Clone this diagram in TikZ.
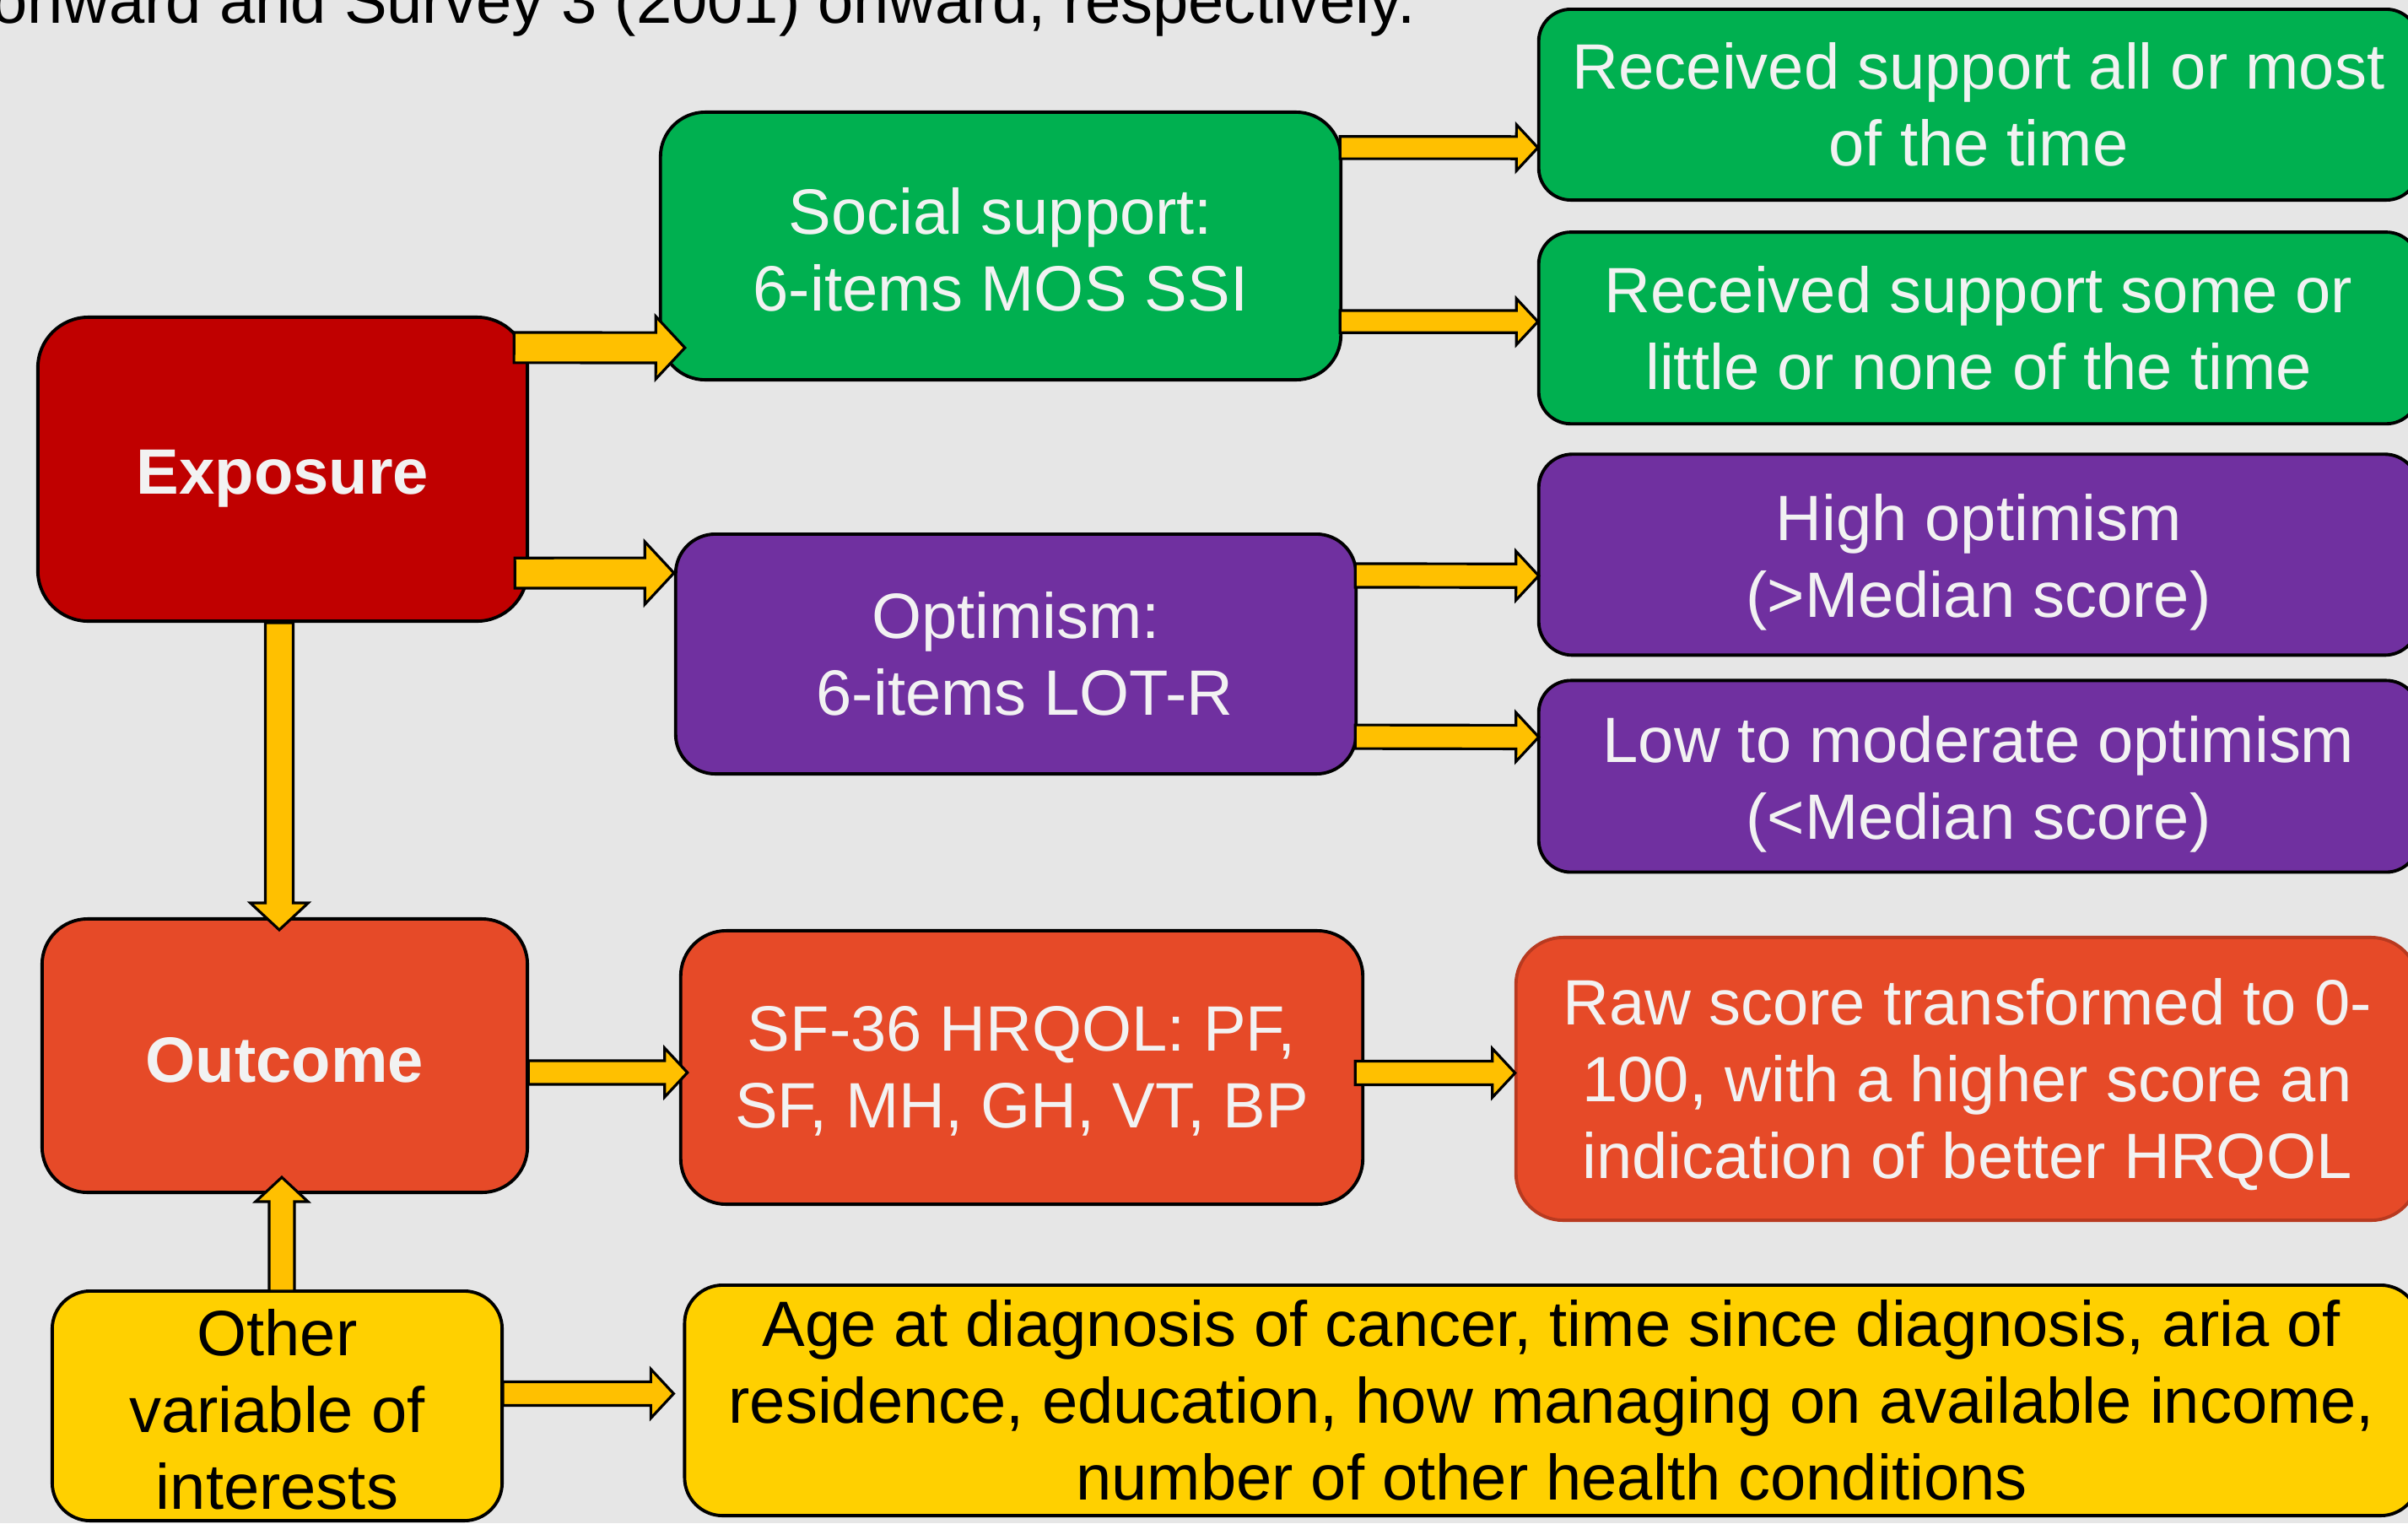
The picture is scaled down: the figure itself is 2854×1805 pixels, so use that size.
\documentclass[tikz,border=0pt]{standalone}
\usepackage{fontspec}
\setmainfont{Liberation Sans}
\usetikzlibrary{positioning}
\usetikzlibrary{calc}

\definecolor{bggray}{HTML}{E6E6E6}
\definecolor{exposurered}{HTML}{C00000}
\definecolor{outcomered}{HTML}{E64A28}
\definecolor{rawborder}{HTML}{B83A20}
\definecolor{supportgreen}{HTML}{00B050}
\definecolor{optimpurple}{HTML}{7030A0}
\definecolor{othersyellow}{HTML}{FFD000}
\definecolor{arrowyellow}{HTML}{FFC000}
\definecolor{paletext}{HTML}{F2F2F2}

% lower one line of text without changing its box
\newcommand{\nudge}[2]{\raisebox{-#1}[\height][\depth]{#2}}

% block arrow: [size]{start}{tip}
\newcommand{\blockarrow}[3][1]{%
  \coordinate (ba-start) at #2;
  \coordinate (ba-tip) at #3;
  \coordinate (ba-neck) at ($(ba-tip)!#1*0.27cm!(ba-start)$);
  \draw[blockarrow]
    ($(ba-start)!#1*0.14cm!90:(ba-tip)$) -- ($(ba-neck)!#1*0.14cm!90:(ba-tip)$)
    -- ($(ba-neck)!#1*0.29cm!90:(ba-tip)$) -- (ba-tip)
    -- ($(ba-neck)!#1*0.29cm!-90:(ba-tip)$) -- ($(ba-neck)!#1*0.14cm!-90:(ba-tip)$)
    -- ($(ba-start)!#1*0.14cm!-90:(ba-tip)$) -- cycle;}

\begin{document}
\begin{tikzpicture}
	[x=0.01cm, y=-0.01cm,
	every node/.style={font=\fontsize{21.6}{25.9}\selectfont, align=center, text=paletext},
	box/.style={draw=black, line width=1.1pt, inner sep=0pt, outer sep=0pt},
	heading/.style={font=\fontsize{21.6}{25.9}\selectfont\bfseries},
	blockarrow/.style={fill=arrowyellow, draw=black, line width=0.9pt}]

	% background
	\fill[bggray] (0,0) rectangle (2854,1805);
	\useasboundingbox (0,0) rectangle (2854,1805);
	\clip (0,0) rectangle (2854,1805);
	\node[text=black, anchor=base east] (caption) at (1690,27) {onward and Survey 3 (2001) onward, respectively.};

	% left column
	\node[box, heading, fill=exposurered, minimum width=5.8cm, minimum height=3.6cm, rounded corners=0.6cm] (exposure) at (335,556) {\nudge{0.11cm}{Exposure}};
	\node[box, heading, fill=outcomered, minimum width=5.75cm, minimum height=3.24cm, rounded corners=0.54cm] (outcome) at (337.5,1251) {\nudge{0.05cm}{Outcome}};
	\node[box, fill=othersyellow, text=black, minimum width=5.33cm, minimum height=2.72cm, rounded corners=0.45cm] (others) at (328.5,1666) {\nudge{0.04cm}{Other}\\\nudge{0.04cm}{variable of}\\\nudge{0.04cm}{interests}};

	% middle column
	\node[box, fill=supportgreen, minimum width=8.06cm, minimum height=3.17cm, rounded corners=0.53cm] (support) at (1186,291.5) {\nudge{0.04cm}{Social support:}\\\nudge{0.04cm}{6-items MOS SSI}};
	\node[box, fill=optimpurple, minimum width=8.06cm, minimum height=2.84cm, rounded corners=0.47cm] (optimism) at (1204,775) {Optimism:\\\hspace{0.21cm}6-items LOT-R};
	\node[box, fill=outcomered, minimum width=8.08cm, minimum height=3.24cm, rounded corners=0.54cm] (sf36) at (1211,1265) {\nudge{0.04cm}{SF-36 HRQOL: PF,}\\\nudge{0.04cm}{SF, MH, GH, VT, BP}};

	% right column
	\node[box, fill=supportgreen, minimum width=10.42cm, minimum height=2.26cm, rounded corners=0.38cm] (suppmost) at (2345,124) {Received support all or most\\of the time};
	\node[box, fill=supportgreen, minimum width=10.42cm, minimum height=2.27cm, rounded corners=0.38cm, below=0.38cm of suppmost] (suppsome) {Received support some or\\little or none of the time};
	\node[box, fill=optimpurple, minimum width=10.42cm, minimum height=2.38cm, rounded corners=0.4cm, below=0.36cm of suppsome] (optihigh) {\nudge{0.09cm}{High optimism}\\\nudge{0.09cm}{(>Median score)}};
	\node[box, fill=optimpurple, minimum width=10.42cm, minimum height=2.27cm, rounded corners=0.38cm, below=0.3cm of optihigh] (optilow) {\nudge{0.09cm}{Low to moderate optimism}\\\nudge{0.09cm}{(<Median score)}};
	\node[box, fill=outcomered, draw=rawborder, minimum width=10.69cm, minimum height=3.35cm, rounded corners=0.56cm] (rawscore) at (2331.5,1278.5) {\nudge{0.07cm}{Raw score transformed to 0-}\\\nudge{0.07cm}{100, with a higher score an}\\\nudge{0.07cm}{indication of better HRQOL}};
	\node[box, fill=othersyellow, text=black, minimum width=20.54cm, minimum height=2.73cm, rounded corners=0.45cm] (covariates) at (1839,1659.5) {Age at diagnosis of cancer, time since diagnosis, aria of\\residence, education, how managing on available income,\\number of other health conditions};

	% block arrows
	\blockarrow[1.28]{($(exposure.north east)+(-16,36)$)}{($(support.south west)+(29,-38)$)}
	\blockarrow[1.28]{($(exposure.south east)+(-15,-57)$)}{($(optimism.west)+(-2,-96)$)}
	\blockarrow[1.18]{($(exposure.south)+(-4,2)$)}{($(outcome.north)+(-6.5,13)$)}
	\blockarrow[1.07]{($(others.north)+(5.5,0)$)}{($(outcome.south)+(-3.5,-18)$)}
	\blockarrow[0.94]{($(support.north east)+(-1,42)$)}{($(suppmost.west)+(-1,51)$)}
	\blockarrow[0.94]{($(support.south east)+(-1,-69)$)}{($(suppsome.west)+(-1,-7.5)$)}
	\blockarrow{($(optimism.north east)+(-1,49)$)}{($(optihigh.west)+(0,25)$)}
	\blockarrow{($(optimism.south east)+(-1,-44)$)}{($(optilow.west)+(0,-46.5)$)}
	\blockarrow{($(outcome.east)+(1,20)$)}{($(sf36.west)+(8,6)$)}
	\blockarrow{($(sf36.east)+(-9,6.5)$)}{($(rawscore.west)+(-1,-7)$)}
	\blockarrow{($(others.east)+(1,-14.5)$)}{($(covariates.west)+(-13,-8)$)}
\end{tikzpicture}
\end{document}
